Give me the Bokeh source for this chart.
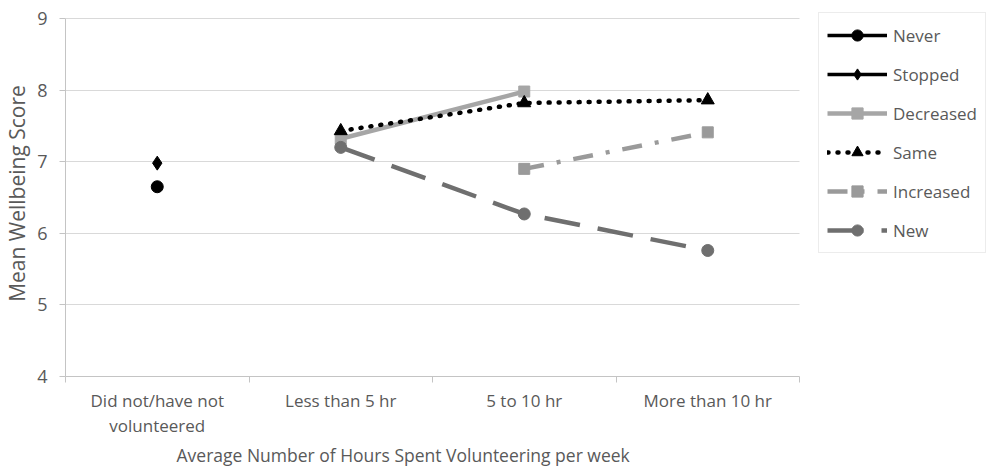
import math
from bokeh.plotting import figure
from bokeh.models import FixedTicker, Legend, LegendItem, Range1d, BoxAnnotation, Title
from bokeh.embed import file_html
from bokeh.resources import INLINE

categories = ["Did not/have not\nvolunteered", "Less than 5 hr", "5 to 10 hr", "More than 10 hr"]
y_ticks = [4, 5, 6, 7, 8, 9]
x_title = "Average Number of Hours Spent Volunteering per week"
y_title = "Mean Wellbeing Score"
nan = float("nan")

never = [6.65, nan, nan, nan]
stopped = [6.98, nan, nan, nan]
decreased = [nan, 7.32, 7.98, nan]
same = [nan, 7.43, 7.82, 7.86]
increased = [nan, nan, 6.90, 7.41]
new = [nan, 7.20, 6.27, 5.76]

FONT = "Open Sans"
TXT = "#595959"
AXC = "#c4c4c4"

# layout (pixels)
W, H = 989, 472
LEFT, TOP, BOTTOM = 65, 10, 376        # frame edges
PLOT_RIGHT, Y9 = 799, 18               # where the category axis ends / where y=9 lies
ncat = len(categories)
y_lo, y_hi = y_ticks[0], y_ticks[-1]
x_end = ncat * (W - LEFT) / (PLOT_RIGHT - LEFT)
y_end = y_lo + (y_hi - y_lo) * (BOTTOM - TOP) / (BOTTOM - Y9)

xs = [i + 0.5 for i in range(ncat)]

p = figure(width=W, height=H, output_backend="svg", toolbar_location=None,
           x_range=Range1d(0, x_end), y_range=Range1d(y_lo, y_end),
           min_border_left=LEFT, min_border_top=TOP, min_border_bottom=H - BOTTOM,
           min_border_right=0)
p.outline_line_color = None
p.background_fill_color = "white"
p.border_fill_color = "white"
p.xgrid.visible = False
p.ygrid.ticker = FixedTicker(ticks=y_ticks)
p.ygrid.grid_line_color = "#d9d9d9"
p.ygrid.grid_line_width = 1

ya = p.yaxis[0]
ya.ticker = FixedTicker(ticks=y_ticks)
ya.bounds = (y_lo, y_hi)
ya.axis_line_color = AXC
ya.major_tick_line_color = AXC
ya.major_tick_out = 6
ya.major_tick_in = 0
ya.minor_tick_line_color = None
ya.major_label_text_font = FONT
ya.major_label_text_font_size = "18px"
ya.major_label_text_color = TXT
ya.major_label_standoff = 12
ya.axis_label = y_title
ya.axis_label_text_font = FONT
ya.axis_label_text_font_size = "21px"
ya.axis_label_text_font_style = "normal"
ya.axis_label_text_color = TXT
ya.axis_label_standoff = 3

xa = p.xaxis[0]
xa.ticker = FixedTicker(ticks=xs, minor_ticks=list(range(ncat + 1)))
xa.bounds = (0, ncat)
xa.major_label_overrides = {x: c for x, c in zip(xs, categories)}
xa.axis_line_color = AXC
xa.major_tick_line_color = None
xa.major_tick_out = 0
xa.major_tick_in = 0
xa.minor_tick_line_color = AXC
xa.minor_tick_out = 6
xa.minor_tick_in = 0
xa.major_label_text_font = FONT
xa.major_label_text_font_size = "17px"
xa.major_label_text_line_height = 1.13
xa.major_label_text_color = TXT
xa.major_label_standoff = 6

# x-axis title, centred under the category axis (not under the whole frame)
p.add_layout(Title(text=x_title, align="left", offset=111, standoff=0,
                   text_font=FONT, text_font_size="17.5px", text_font_style="normal",
                   text_color=TXT), "below")

# blank the area to the right of the category axis (legend zone)
p.add_layout(BoxAnnotation(left=ncat, fill_color="white", fill_alpha=1.0,
                           line_color=None, level="underlay"))

series = [
    ("Never", never, "black", 3.5, "solid", "circle", 12),
    ("Stopped", stopped, "black", 3.5, "solid", "diamond", 14),
    ("Decreased", decreased, "#a6a6a6", 4.5, "solid", "square", 11),
    ("Same", same, "black", 4.5, "1 9", "triangle", 13),
    ("Increased", increased, "#9a9a9a", 4.5, "20 13 4 13", "square", 11),
    ("New", new, "#6f6f6f", 4.5, "36 18", "circle", 12),
]

items = []
for name, vals, color, w, dash, marker, size in series:
    lr = p.line(xs, vals, line_color=color, line_width=w, line_dash=dash,
                line_cap="round" if dash == "1 9" else "butt")
    sr = p.scatter(xs, vals, marker=marker, size=size,
                   fill_color=color, line_color=color)
    items.append(LegendItem(label=name, renderers=[lr, sr]))

legend = Legend(items=items, location=(818 - LEFT, BOTTOM - 253), margin=0,
                glyph_width=60, glyph_height=28, label_height=20, spacing=11,
                padding=8, label_standoff=6,
                border_line_color="#d9d9d9", border_line_width=1.5,
                background_fill_color="white",
                label_text_font=FONT, label_text_font_size="17px", label_text_color=TXT)
p.add_layout(legend, "center")

open("out.html", "w").write(file_html(p, INLINE))
